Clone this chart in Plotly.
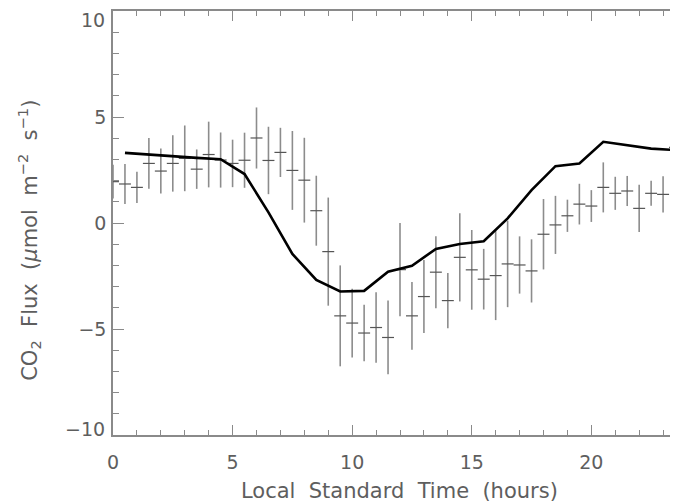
import plotly.graph_objects as go

# Observed half-hourly flux (crosses with error bars)
obs_time = [0.0, 0.5, 1.0, 1.5, 2.0, 2.5, 3.0, 3.5, 4.0, 4.5, 5.0, 5.5,
            6.0, 6.5, 7.0, 7.5, 8.0, 8.5, 9.0, 9.5, 10.0, 10.5, 11.0, 11.5,
            12.0, 12.5, 13.0, 13.5, 14.0, 14.5, 15.0, 15.5, 16.0, 16.5, 17.0, 17.5,
            18.0, 18.5, 19.0, 19.5, 20.0, 20.5, 21.0, 21.5, 22.0, 22.5, 23.0, 23.5]
obs_flux = [1.95, 1.84, 1.68, 2.81, 2.45, 2.81, 3.05, 2.54, 3.23, 2.97, 2.81, 2.96,
            4.01, 2.95, 3.33, 2.48, 2.02, 0.58, -1.35, -4.38, -4.72, -5.19, -4.93, -5.40,
            -2.20, -4.38, -3.47, -2.32, -3.66, -1.62, -2.21, -2.65, -2.48, -1.93, -1.98, -2.26,
            -0.53, -0.09, 0.34, 0.89, 0.80, 1.68, 1.40, 1.51, 0.69, 1.40, 1.35, 3.57]
obs_err = [0.80, 0.94, 0.74, 1.20, 1.06, 1.33, 1.55, 0.93, 1.55, 1.30, 1.12, 1.30,
           1.44, 1.59, 1.16, 1.86, 2.00, 1.65, 2.55, 2.38, 1.62, 1.33, 1.66, 1.74,
           2.20, 1.60, 1.72, 1.70, 1.30, 2.08, 1.88, 1.43, 2.10, 2.04, 1.35, 1.49,
           1.66, 1.37, 0.76, 0.96, 0.75, 1.18, 0.78, 0.71, 1.12, 0.59, 0.85, 2.90]
half_bin = [0.25] * len(obs_time)

# Model (hourly) flux line
model_time = [0.5, 1.5, 2.5, 3.5, 4.5, 5.5, 6.5, 7.5, 8.5, 9.5, 10.5, 11.5,
              12.5, 13.5, 14.5, 15.5, 16.5, 17.5, 18.5, 19.5, 20.5, 21.5, 22.5, 23.5]
model_flux = [3.31, 3.22, 3.14, 3.07, 3.01, 2.31, 0.50, -1.46, -2.68, -3.23, -3.20, -2.30,
              -2.02, -1.22, -0.99, -0.86, 0.22, 1.55, 2.68, 2.81, 3.83, 3.67, 3.51, 3.44]

x_ticks = [0, 5, 10, 15, 20]
y_ticks_mid = [-5, 0, 5]
y_ticktext_mid = ["\u22125", "0", "5"]
y_end_vals = [10, -10]
y_end_text = ["10", "\u221210"]

AX = "#8a8a8a"
TXT = "#5e5e5e"
FONT = "DejaVu Sans"
TICK_SIZE = 19
TITLE_SIZE = 21
SP = " \u00a0"  # wide word gap like the original vector font

# page body adds an 8px offset; figure coords = window coords - 8
OFF = 8
X_RIGHT = 24  # the frame ends at 24 h, just past the window edge
W, H = 681, 504 - OFF
L = 112.5 - OFF
T = 10.5 - OFF
B = H - (435.5 - OFF)
PW, PH = W - L, H - T - B

fig = go.Figure()
fig.add_trace(go.Scatter(
    x=obs_time, y=obs_flux, mode="markers",
    marker=dict(size=1, color="rgba(0,0,0,0)"),
    error_y=dict(type="data", array=obs_err, visible=True, color="#8c8c8c",
                 thickness=1.6, width=0),
    error_x=dict(type="data", array=half_bin, visible=True, color="#555555",
                 thickness=1.2, width=0),
    showlegend=False, hoverinfo="skip"))
fig.add_trace(go.Scatter(
    x=model_time, y=model_flux, mode="lines",
    line=dict(color="black", width=2.6), showlegend=False))

annotations = [
    dict(text="Local" + SP + "Standard" + SP + "Time" + SP + "(hours)",
         xref="paper", yref="paper",
         x=(400 - OFF - L) / PW, y=-((492 - OFF) - (H - B)) / PH,
         showarrow=False, xanchor="center", yanchor="middle",
         font=dict(family=FONT, size=TITLE_SIZE, color=TXT)),
    dict(text="CO<sub>2</sub>" + SP + "Flux" + SP + "(<i>\u03bc</i>mol" + SP +
              "m<sup>\u22122</sup>" + SP + "s<sup>\u22121</sup>)",
         xref="paper", yref="paper",
         x=-(L - (28 - OFF)) / PW, y=((H - B) - (240 - OFF)) / PH,
         textangle=-90, showarrow=False, xanchor="center", yanchor="middle",
         font=dict(family=FONT, size=TITLE_SIZE, color=TXT)),
]
# end labels of the y axis sit inside the axis range, as in the original
for val, txt, shift in zip(y_end_vals, y_end_text, [-9, 6.5]):
    annotations.append(dict(text=txt, xref="paper", yref="y", x=0, y=val,
                            xanchor="right", yanchor="middle", xshift=-6,
                            yshift=shift, showarrow=False,
                            font=dict(family=FONT, size=TICK_SIZE, color=TXT)))

fig.update_layout(
    width=W, height=H,
    margin=dict(l=L, r=0, t=T, b=B, pad=0),
    plot_bgcolor="white", paper_bgcolor="white",
    font=dict(family=FONT, color=TXT, size=TICK_SIZE),
    xaxis=dict(range=[0, X_RIGHT], tickvals=x_ticks, ticks="inside",
               ticklen=10, tickwidth=1.4, tickcolor=AX,
               showline=True, linecolor=AX, linewidth=1.6, mirror="allticks",
               showgrid=False, zeroline=False,
               minor=dict(dtick=1, tick0=0, ticks="inside", ticklen=5,
                          tickwidth=1.2, tickcolor=AX, showgrid=False),
               tickfont=dict(family=FONT, size=TICK_SIZE, color=TXT),
               ticklabelstandoff=9),
    yaxis=dict(range=[-10, 10], tickvals=y_ticks_mid, ticktext=y_ticktext_mid,
               ticks="inside", ticklen=11, tickwidth=1.4, tickcolor=AX,
               showline=True, linecolor=AX, linewidth=1.6, mirror="allticks",
               showgrid=False, zeroline=False,
               minor=dict(tickvals=list(range(-10, 11)), ticks="inside", ticklen=6,
                          tickwidth=1.2, tickcolor=AX, showgrid=False),
               tickfont=dict(family=FONT, size=TICK_SIZE, color=TXT),
               ticklabelstandoff=1),
    annotations=annotations,
)

fig.write_html("out.html")
